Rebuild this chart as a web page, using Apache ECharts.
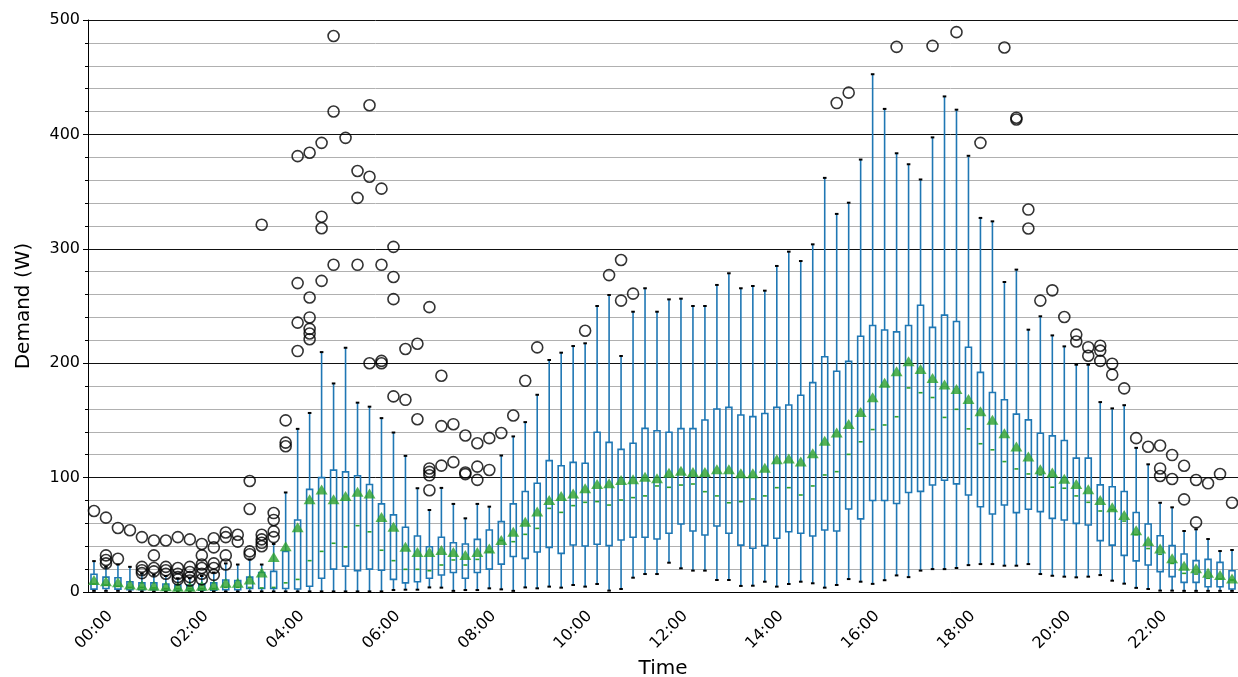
<!DOCTYPE html>
<html>
<head>
<meta charset="utf-8">
<title>Demand box plot</title>
<script src="https://cdn.jsdelivr.net/npm/echarts@6/dist/echarts.min.js"></script>
<style>
  html, body { margin: 0; padding: 0; background: #fff; }
  #chart { width: 1238px; height: 677px; }
</style>
</head>
<body>
<div id="chart"></div>
<script>
// 15-minute slots, 00:00 .. 23:45
const times = [];
for (let h = 0; h < 24; h++) {
  for (let m = 0; m < 60; m += 15) {
    times.push(String(h).padStart(2, '0') + ':' + String(m).padStart(2, '0'));
  }
}

// box statistics per slot (W)
const whiskerLow = [
  1, 1, 1, 0.5, 0.5, 0.5, 0.5, 0.5, 0.5, 0.5, 0.5, 0.5,
  0.5, 0.5, 0.5, 0.5, 0.5, 0.5, 0.5, 0.5, 0.5, 0.5, 0.5, 0.5,
  0.5, 1.7, 2, 2, 4, 3.8, 1, 1.7, 1.7, 3.2, 2.3, 1,
  4, 3.2, 4.7, 3.8, 6.1, 4.7, 7, 1.2, 2.6, 12.5, 15.7, 15.7,
  25.6, 20.7, 18.7, 18.7, 10.5, 10.5, 5.3, 5.5, 9, 4.7, 7, 9,
  7.6, 3.8, 6.1, 11.3, 9, 7.1, 10.3, 14.5, 13, 18.7, 20, 20,
  21, 23.5, 24.4, 24.4, 23, 23, 24.4, 15.7, 14.2, 13.4, 12.8, 13.4,
  14.8, 9.9, 7.3, 3.6, 2.6, 1.2, 1.2, 1, 1, 1, 1, 1
];
const q1 = [
  2.5, 3, 2.5, 2, 2, 2, 1.5, 1.5, 1.5, 1.5, 1.5, 2,
  2, 3, 3, 3, 3, 2.6, 5, 12, 20, 22.6, 18.7, 20,
  19, 11, 8, 9, 12, 14.8, 17, 12, 17, 20, 24.4, 31,
  29.4, 35, 39, 33.8, 41.1, 40.2, 41.7, 40.5, 45.5, 47.8, 47.8, 46.3,
  51.3, 59.4, 53.3, 49.8, 57.7, 51.3, 41, 38.2, 40.5, 47, 52.7, 51.3,
  49, 54.2, 53.3, 72.6, 63.9, 80, 80, 77.4, 87, 88, 93.5, 97.7,
  94.5, 84.8, 74.5, 68.2, 76, 69.4, 72.3, 70.3, 64.4, 63, 60, 58.6,
  44.9, 41, 32, 27.2, 23.6, 17.8, 13.4, 8.4, 8.4, 4.6, 4.6, 2.6
];
const median = [
  7, 6, 5, 4, 4, 3.5, 3, 3, 3, 3, 3, 4,
  4, 4, 3.5, 4, 8, 11, 27.4, 35.5, 42.6, 39.4, 58, 52.6,
  36.5, 27.4, 19.8, 19.8, 18.6, 23.6, 28, 23.6, 28.5, 35, 45, 44,
  50.4, 55.6, 73.1, 69.6, 75.5, 78.4, 79, 76, 80.4, 82.5, 84, 92.7,
  91.5, 93.5, 94.4, 87.7, 84, 78, 79, 81.3, 84, 91.2, 91.2, 84.8,
  92.7, 102.3, 105.2, 120.3, 131.3, 142, 146, 153.2, 178.4, 174.2, 170, 152.6,
  159.7, 142.6, 129.6, 124.3, 114, 107.6, 103.2, 102.4, 91.6, 90.7, 84, 78.4,
  70.8, 72, 62, 50, 38, 33, 25, 16.3, 15.7, 12, 11.4, 10.5
];
const q3 = [
  15.5, 13, 12.5, 9, 8, 8, 7, 6, 6, 7, 8, 10.5,
  10, 13, 17, 18, 35.5, 63, 89.7, 100, 106.5, 105, 101.6, 94,
  77, 67.4, 56.6, 49, 39.6, 47.8, 43, 42, 46, 54.2, 61.5, 77,
  87.8, 95, 114.8, 110.4, 113.3, 112.5, 139.6, 130.8, 124.7, 130, 143, 141,
  139.6, 142.8, 142.8, 150.4, 160, 161.4, 154.7, 153.3, 156, 161.4, 163.5, 172,
  183, 205.7, 193, 201.6, 223.5, 233, 229, 227.4, 233, 250.6, 231.3, 242,
  236.5, 214, 192, 174.4, 168, 155.5, 150.5, 138.8, 136.5, 132.4, 117, 117,
  93.6, 92, 87.8, 69.5, 59.4, 49.2, 40.5, 33.2, 27.4, 28.5, 25.9, 18.6
];
const whiskerHigh = [
  27, 22, 24, 22, 16, 15, 14, 12, 12, 14, 17, 25,
  24, 28.4, 24, 42, 87, 142.6, 156.5, 209.7, 182.3, 213.5, 165.5, 162,
  152, 139.4, 119, 90.7, 71.7, 91, 77, 64.4, 77, 74.6, 119.3, 136,
  148.5, 172.4, 202.8, 209.2, 215, 217.4, 250, 259.6, 206.3, 245, 265.5, 245,
  255.8, 256.4, 250, 250, 268.4, 278.6, 265.5, 267.5, 263.4, 285, 297.5, 289.3,
  303.9, 362, 330.5, 340.3, 378, 452.6, 422.3, 383.5, 373.9, 360.6, 397.4, 433.2,
  421.6, 381.3, 327, 324, 271, 281.8, 229.3, 241, 224.3, 214.7, 198.7, 198.7,
  166, 160.5, 163.3, 126, 111.6, 78, 74, 53.3, 54.8, 46.3, 35.8, 36.7
];
const means = [
  10.5, 9.5, 8.5, 6.5, 6, 5.5, 5, 4.5, 4.5, 5.5, 6, 8,
  8, 11, 17, 30.6, 40, 56.5, 81, 89.7, 81, 84, 87.7, 86,
  65.5, 57, 39.5, 35, 35, 36.7, 35, 32.3, 35, 38, 45.5, 52.7,
  61.5, 70.4, 80.4, 83.9, 86.2, 90.6, 94.4, 95, 98, 98.5, 100.8, 99.4,
  104.3, 106, 105, 105, 107.2, 107.2, 103.7, 103.7, 108.7, 116, 116.8, 114,
  121.2, 132.3, 139.5, 146.8, 157.4, 170.3, 183, 193, 201.6, 195, 187, 181.3,
  177.4, 168.7, 158, 150.5, 138.8, 127.2, 118.4, 107.3, 104.4, 98.9, 94.5, 89.8,
  80.5, 74, 67.3, 53.9, 44.6, 38, 29.4, 23, 20.7, 16.9, 14.9, 11.9
];
// fliers as [slot index, value]
const outliers = [
  [0, 70.8], [1, 65], [1, 32], [1, 28], [1, 25], [2, 56], [2, 29], [3, 54],
  [4, 48], [4, 22], [4, 19], [4, 16.5], [5, 45], [5, 32], [5, 21], [5, 18],
  [6, 45], [6, 22], [6, 19], [6, 16], [7, 48], [7, 21], [7, 16], [7, 13], [7, 11],
  [8, 46], [8, 22], [8, 17.5], [8, 13], [8, 10], [9, 42], [9, 32], [9, 24], [9, 21], [9, 16], [9, 11],
  [10, 47], [10, 39], [10, 25], [10, 21], [10, 15], [11, 52], [11, 48], [11, 32], [11, 24],
  [12, 44], [12, 50], [13, 97], [13, 72.6], [13, 35.5], [13, 33],
  [14, 321], [14, 50], [14, 46], [14, 43], [14, 40], [15, 69], [15, 63], [15, 53], [15, 48],
  [16, 150], [16, 130.6], [16, 127.4], [17, 381], [17, 270], [17, 235.5], [17, 210.6],
  [18, 384], [18, 257.4], [18, 240], [18, 230], [18, 226], [18, 221],
  [19, 392.6], [19, 328], [19, 318], [19, 272], [20, 486], [20, 420], [20, 286], [21, 397],
  [22, 368], [22, 344.5], [22, 286], [23, 425.5], [23, 363], [23, 200],
  [24, 352.6], [24, 286], [24, 202], [24, 200], [25, 301.7], [25, 275.4], [25, 256], [25, 171],
  [26, 212.4], [26, 168], [27, 217], [27, 151], [28, 249], [28, 108], [28, 105], [28, 102], [28, 89],
  [29, 189], [29, 145], [29, 110.5], [30, 146.7], [30, 113.5], [31, 136.8], [31, 104.4], [31, 103],
  [32, 130], [32, 109.6], [32, 98], [33, 134.5], [33, 106.7], [34, 139], [35, 154.3], [36, 184.6],
  [37, 213.8], [41, 228.4], [43, 277], [44, 290.2], [44, 254.7], [45, 260.8],
  [62, 427.4], [63, 436.5], [67, 476.5], [70, 477.4], [72, 489.4], [74, 392.6], [76, 476],
  [77, 414.6], [77, 413], [78, 334.3], [78, 317.7], [79, 254.7], [80, 263.7], [81, 240.4],
  [82, 225], [82, 219], [83, 214], [83, 206.5], [84, 215.3], [84, 211], [84, 202],
  [85, 199.5], [85, 190], [86, 178], [87, 134.5], [88, 127], [89, 128], [89, 108], [89, 101.4],
  [90, 119.7], [90, 98.8], [91, 110.4], [91, 81], [92, 97.9], [92, 60.9], [93, 95], [94, 103.1], [95, 78]
];

const BLUE = '#1f77b4';
const GREEN = '#2ca02c';
const FONT = '"DejaVu Sans", sans-serif';

const boxRows = times.map((t, i) => [i, whiskerLow[i], q1[i], median[i], q3[i], whiskerHigh[i]]);
const meanRows = times.map((t, i) => [i, means[i]]);

function renderBox(params, api) {
  const i = api.value(0);
  const w = api.size([1, 0])[0] * 0.5;
  const cw = w * 0.6;
  const lo = api.coord([i, api.value(1)]);
  const b1 = api.coord([i, api.value(2)]);
  const md = api.coord([i, api.value(3)]);
  const b3 = api.coord([i, api.value(4)]);
  const hi = api.coord([i, api.value(5)]);
  const x = lo[0];
  const line = { stroke: BLUE, lineWidth: 1.6 };
  return {
    type: 'group',
    children: [
      { type: 'line', shape: { x1: x, y1: b1[1], x2: x, y2: lo[1] }, style: line },
      { type: 'line', shape: { x1: x, y1: b3[1], x2: x, y2: hi[1] }, style: line },
      { type: 'rect', shape: { x: x - w / 2, y: b3[1], width: w, height: b1[1] - b3[1] },
        style: { fill: 'none', stroke: BLUE, lineWidth: 1.6 } },
      { type: 'line', shape: { x1: x - cw / 2, y1: lo[1], x2: x + cw / 2, y2: lo[1] },
        style: { stroke: '#000', lineWidth: 2 } },
      { type: 'line', shape: { x1: x - cw / 2, y1: hi[1], x2: x + cw / 2, y2: hi[1] },
        style: { stroke: '#000', lineWidth: 2 } },
      { type: 'line', shape: { x1: x - w / 2 + 1, y1: md[1], x2: x + w / 2 - 1, y2: md[1] },
        style: { stroke: GREEN, lineWidth: 1.6 } }
    ]
  };
}

const chart = echarts.init(document.getElementById('chart'));
chart.setOption({
  animation: false,
  backgroundColor: '#fff',
  textStyle: { fontFamily: FONT },
  grid: { left: 88, right: 0, top: 20, bottom: 85, outerBoundsMode: 'none' },
  xAxis: {
    type: 'category',
    data: times,
    name: 'Time',
    nameLocation: 'middle',
    nameGap: 60,
    nameTextStyle: { fontSize: 20, color: '#000', fontFamily: FONT },
    axisLine: { lineStyle: { color: '#000', width: 1 } },
    axisTick: { interval: 0, alignWithLabel: true, length: 5, lineStyle: { color: '#000' } },
    axisLabel: {
      interval: 7, rotate: 45, align: 'center', verticalAlign: 'middle', margin: 38,
      fontSize: 16, color: '#000', fontFamily: FONT
    },
    splitLine: { show: false }
  },
  yAxis: {
    type: 'value',
    min: 0,
    max: 500,
    interval: 100,
    name: 'Demand (W)',
    nameLocation: 'middle',
    nameGap: 54,
    nameRotate: 90,
    nameTextStyle: { fontSize: 20, color: '#000', fontFamily: FONT },
    axisLine: { show: true, lineStyle: { color: '#000', width: 1 } },
    axisTick: { show: true, length: 5, lineStyle: { color: '#000' } },
    minorTick: { show: true, splitNumber: 5, length: 3, lineStyle: { color: '#000' } },
    axisLabel: { fontSize: 16, color: '#000', margin: 8, fontFamily: FONT },
    splitLine: { show: true, lineStyle: { color: '#111', width: 1 } },
    minorSplitLine: { show: true, lineStyle: { color: '#b0b0b0', width: 1 } }
  },
  series: [
    {
      type: 'custom',
      name: 'boxes',
      renderItem: renderBox,
      encode: { x: 0, y: [1, 2, 3, 4, 5] },
      data: boxRows,
      z: 3
    },
    {
      type: 'scatter',
      name: 'mean',
      data: meanRows,
      symbol: 'triangle',
      symbolSize: [12, 10],
      itemStyle: { color: GREEN },
      z: 4
    },
    {
      type: 'scatter',
      name: 'fliers',
      data: outliers,
      symbol: 'circle',
      symbolSize: 11,
      itemStyle: { color: 'rgba(0,0,0,0)', borderColor: '#000', borderWidth: 1.6 },
      z: 5
    }
  ]
});
</script>
</body>
</html>
